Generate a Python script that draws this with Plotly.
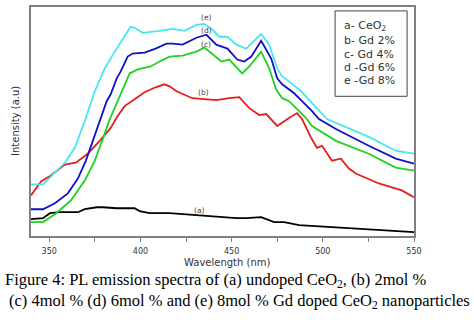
import plotly.graph_objects as go

# ---- data ----
wl_a = [340, 346.6, 350.4, 355.8, 365.7, 369.5, 376.1, 379.3, 387.0, 396.8, 399.6, 405.0, 416.0,
        432.3, 443.3, 447.7, 452.6, 458.0, 466.2, 473.3, 478.8, 487.0, 503.4, 525.2, 550]
int_a = [17, 18, 23, 24, 24, 27, 29, 29, 28, 28, 25, 23, 23,
         21, 19, 19, 18, 18, 19, 14, 14, 11, 9, 7, 4]

wl_b = [340, 345.5, 350.9, 358.6, 364.6, 371.1, 377.7, 383.7, 387.5, 391.4, 396.8, 402.3, 408.3,
        413.2, 416.0, 419.8, 428.5, 441.6, 448.7, 454.2, 459.7, 465.1, 469.0, 475.0, 481.5, 485.9,
        488.6, 493.6, 496.8, 499.6, 505.0, 509.9, 514.3, 518.1, 530.7, 543.3, 550]
int_b = [41, 55, 61, 72, 74, 83, 96, 109, 121, 131, 138, 145, 150,
         153, 151, 146, 139, 137, 139, 140, 129, 122, 123, 111, 119, 124,
         118, 99, 89, 91, 76, 78, 68, 63, 53, 46, 39]

wl_c = [340, 346.6, 353.1, 361.9, 369.5, 375.0, 380.4, 383.2, 387.5, 391.4, 394.1, 398.5, 405.6,
        410.5, 416.0, 423.1, 430.7, 435.1, 439.5, 444.4, 448.7, 455.8, 459.7, 466.2, 470.6, 474.4,
        477.7, 481.5, 487.0, 490.8, 494.1, 507.2, 525.2, 540.0, 550]
int_c = [14, 14, 22, 36, 56, 76, 103, 118, 136, 153, 164, 168, 171,
         176, 181, 182, 186, 190, 183, 176, 178, 164, 171, 186, 169, 148,
         139, 136, 126, 119, 111, 96, 83, 69, 66]

wl_d = [340, 346.6, 353.1, 360.2, 365.7, 370.1, 373.9, 377.7, 381.5, 383.7, 387.0, 389.2, 393.0,
        395.7, 402.3, 408.3, 414.3, 417.6, 423.1, 430.7, 436.2, 441.6, 447.7, 453.1, 456.9, 460.8,
        466.2, 471.7, 475.0, 477.7, 481.5, 484.3, 488.6, 494.1, 497.9, 507.2, 525.2, 540.0, 550]
int_d = [27, 27, 33, 43, 58, 76, 96, 116, 136, 143, 159, 166, 181,
         184, 185, 189, 194, 194, 193, 200, 203, 193, 189, 178, 176, 181,
         197, 179, 159, 153, 148, 144, 136, 126, 118, 108, 91, 78, 73]

wl_e = [340, 346.6, 350.9, 358.6, 364.0, 369.5, 375.0, 380.4, 385.9, 389.2, 391.9, 394.6, 396.8,
        401.2, 410.5, 417.6, 424.2, 430.7, 435.1, 439.5, 443.3, 447.7, 452.6, 458.0, 466.2, 470.6,
        475.0, 477.7, 481.5, 488.1, 494.1, 502.3, 525.2, 540.0, 550]
int_e = [52, 52, 60, 74, 89, 116, 146, 169, 186, 196, 204, 211, 210,
         205, 207, 209, 207, 213, 214, 208, 201, 201, 193, 189, 204, 193,
         169, 161, 156, 146, 134, 118, 100, 86, 83]

series_names = ["a- CeO<sub>2</sub>", "b- Gd 2%", "c- Gd 4%", "d -Gd 6%", "e -Gd 8%"]
curve_labels = ["(a)", "(b)", "(c)", "(d)", "(e)"]
label_wl = [432.3, 434.5, 436.2, 436.2, 436.2]
label_int = [26, 145, 193, 207, 220]

tick_vals = [350, 400, 450, 500, 550]
tick_text = ["350", "400", "450", "500", "550"]

colors = ["#000000", "#e41e1e", "#1fd21f", "#1010c8", "#44e8f0"]

fig = go.Figure()
for wl, it, col, nm in zip([wl_a, wl_b, wl_c, wl_d, wl_e],
                           [int_a, int_b, int_c, int_d, int_e], colors, series_names):
    fig.add_trace(go.Scatter(x=wl, y=it, mode="lines", name=nm,
                             line=dict(color=col, width=1.8), showlegend=False))

for t, lx, ly in zip(curve_labels, label_wl, label_int):
    fig.add_annotation(x=lx, y=ly, xref="x", yref="y", text=t, showarrow=False,
                       font=dict(family="DejaVu Sans", size=7.5, color="#444444"))

# legend box
fig.add_shape(type="rect", xref="paper", yref="paper", x0=0.794, x1=0.982, y0=0.610, y1=0.983,
              line=dict(color="#444444", width=1), fillcolor="white", layer="above")
leg_y = [0.918, 0.853, 0.792, 0.736, 0.680]
for nm, yy in zip(series_names, leg_y):
    fig.add_annotation(x=0.812, y=yy, xref="paper", yref="paper", text=nm, showarrow=False,
                       xanchor="left", yanchor="middle",
                       font=dict(family="DejaVu Sans", size=11, color="#333333"))

# axis titles
fig.add_annotation(x=0.512, y=-0.117, xref="paper", yref="paper", text="Wavelength (nm)",
                   showarrow=False, xanchor="center", yanchor="middle",
                   font=dict(family="DejaVu Sans", size=10, color="#333333"))
fig.add_annotation(x=-0.042, y=0.502, xref="paper", yref="paper", text="Intensity (a.u)",
                   showarrow=False, textangle=-90, xanchor="center", yanchor="middle",
                   font=dict(family="DejaVu Sans", size=10, color="#333333"))

# caption
fig.add_annotation(x=-0.0731, y=-0.190, xref="paper", yref="paper",
                   text="Figure 4: PL emission spectra of (a) undoped CeO<sub>2</sub>, (b) 2mol %",
                   showarrow=False, xanchor="left", yanchor="middle",
                   font=dict(family="Liberation Serif", size=16.5, color="#000000"))
fig.add_annotation(x=-0.0627, y=-0.286, xref="paper", yref="paper",
                   text="(c) 4mol % (d) 6mol % and (e) 8mol % Gd doped CeO<sub>2</sub> nanoparticles",
                   showarrow=False, xanchor="left", yanchor="middle",
                   font=dict(family="Liberation Serif", size=16.5, color="#000000"))

fig.update_xaxes(range=[340, 550], tickvals=tick_vals, ticktext=tick_text,
                 ticks="outside", ticklen=4, tickcolor="#808080", tickwidth=1,
                 ticklabelstandoff=3,
                 minor=dict(ticks="outside", dtick=25, tick0=325, ticklen=4, tickcolor="#808080"),
                 showline=True, linecolor="#808080", linewidth=1.5, mirror=True,
                 showgrid=False, zeroline=False,
                 tickfont=dict(family="DejaVu Sans", size=8, color="#333333"))
fig.update_yaxes(range=[0, 231], showticklabels=False, ticks="",
                 showline=True, linecolor="#808080", linewidth=1.5, mirror=True,
                 showgrid=False, zeroline=False)

fig.update_layout(width=474, height=325, margin=dict(l=31, r=60, t=5, b=89),
                  plot_bgcolor="white", paper_bgcolor="white")

fig.write_html("out.html")
